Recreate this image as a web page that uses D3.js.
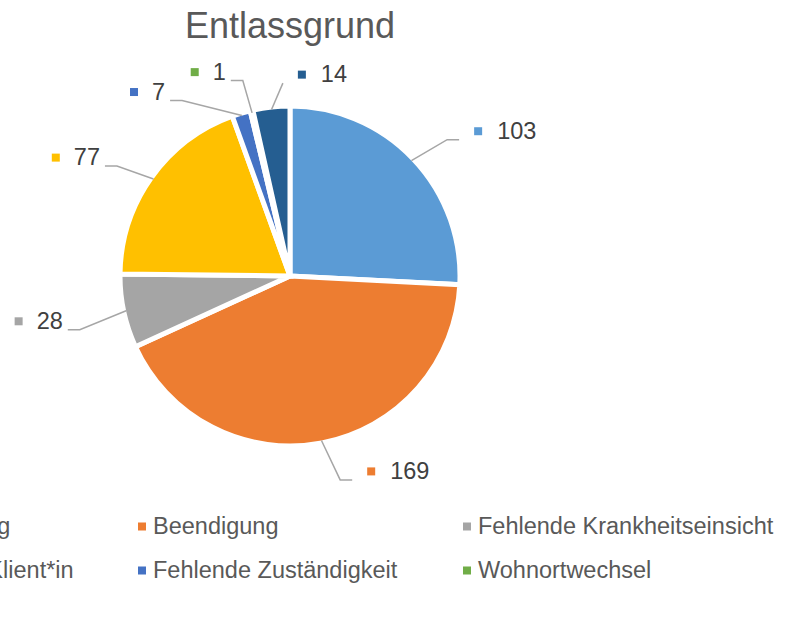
<!DOCTYPE html>
<html lang="de">
<head>
<meta charset="UTF-8">
<title>Entlassgrund</title>
<script src="https://cdn.jsdelivr.net/npm/d3@7"></script>
<style>
    body{margin:0;background:#fff;}
    svg{display:block;font-family:Arial,"Liberation Sans",sans-serif;}
</style>
</head>
<body>
<svg width="785" height="626"></svg>
<script>
    // data
    var categories = ['Weitervermittlung','Beendigung','Fehlende Krankheitseinsicht','Abbruch durch Klient*in','Fehlende Zuständigkeit','Wohnortwechsel','Sonstiges'];
    var values = [103,169,28,77,7,1,14];
    var colors = ['#5B9BD5','#ED7D31','#A5A5A5','#FFC000','#4472C4','#70AD47','#255E91'];

    // label placement tweaks (angle shift in degrees, radius of the elbow)
    var labelShift = [2.6,-3,-2.4,-3,-14.9,-0.5,4.2];
    var labelRadius = [208,210,217,205,206,201,193];

    var svg = d3.select('svg'),
        cx = 290, cy = 276, r = 170;

    svg.append('text')
        .attr('x',cx).attr('y',38)
        .attr('text-anchor','middle')
        .attr('font-size',36)
        .attr('fill','#595959')
        .text('Entlassgrund');

    var pie = d3.pie().sort(null).value(function(d){return d;});
    var arcs = pie(values);
    var arc = d3.arc().innerRadius(0).outerRadius(r);

    var g = svg.append('g').attr('transform','translate('+cx+','+cy+')');

    g.selectAll('path')
        .data(arcs)
        .enter().append('path')
        .attr('d',arc)
        .attr('fill',function(d,i){return colors[i];})
        .attr('stroke','#fff')
        .attr('stroke-width',5);

    // data labels with leader lines
    function polar(a,rad){ return [rad*Math.sin(a), -rad*Math.cos(a)]; }
    var edgeR = r - 2.5;

    arcs.forEach(function(d,i){
        var mid = (d.startAngle + d.endAngle)/2;
        var a = mid + labelShift[i]*Math.PI/180;
        var p0 = polar(mid,edgeR);
        var p1 = polar(a,labelRadius[i]);
        var right = Math.sin(a) > -0.1;
        var hlen = Math.abs(Math.sin(a)) < 0.1 ? 0 : 12;
        var p2 = [p1[0] + (right ? -hlen : hlen), p1[1]];
        if(!right) p2 = [p1[0] - hlen, p1[1]];
        else p2 = [p1[0] + hlen, p1[1]];

        g.append('polyline')
            .attr('points',[p0,p1,p2].map(function(p){return p.join(',');}).join(' '))
            .attr('fill','none')
            .attr('stroke','#A6A6A6')
            .attr('stroke-width',1.5);

        var lab = g.append('g');
        var txt = lab.append('text')
            .attr('y',p2[1] - 1)
            .attr('font-size',23.5)
            .attr('fill','#404040')
            .text(values[i]);
        var mx;
        if(right){
            mx = p2[0] + 15;
            txt.attr('x',mx + 23);
        }else{
            txt.attr('x',p2[0] - 5).attr('text-anchor','end');
            mx = p2[0] - 5 - txt.node().getComputedTextLength() - 22;
        }
        lab.append('rect')
            .attr('x',mx).attr('y',p2[1] - 12.5)
            .attr('width',8).attr('height',8)
            .attr('fill',colors[i]);
    });

    // legend
    var colW = 325, rowH = 44, cols = 3;
    var lx0 = cx - colW*cols/2 + 10.5, ly0 = 534;
    var legend = svg.append('g')
        .selectAll('g')
        .data(categories)
        .enter().append('g')
        .attr('transform',function(d,i){
            return 'translate('+(lx0 + (i%cols)*colW)+','+(ly0 + Math.floor(i/cols)*rowH)+')';
        });
    legend.append('rect')
        .attr('x',0).attr('y',-11.5)
        .attr('width',8).attr('height',8)
        .attr('fill',function(d,i){return colors[i];});
    legend.append('text')
        .attr('x',15).attr('y',0)
        .attr('font-size',23.5)
        .attr('fill','#595959')
        .text(function(d){return d;});
</script>
</body>
</html>
